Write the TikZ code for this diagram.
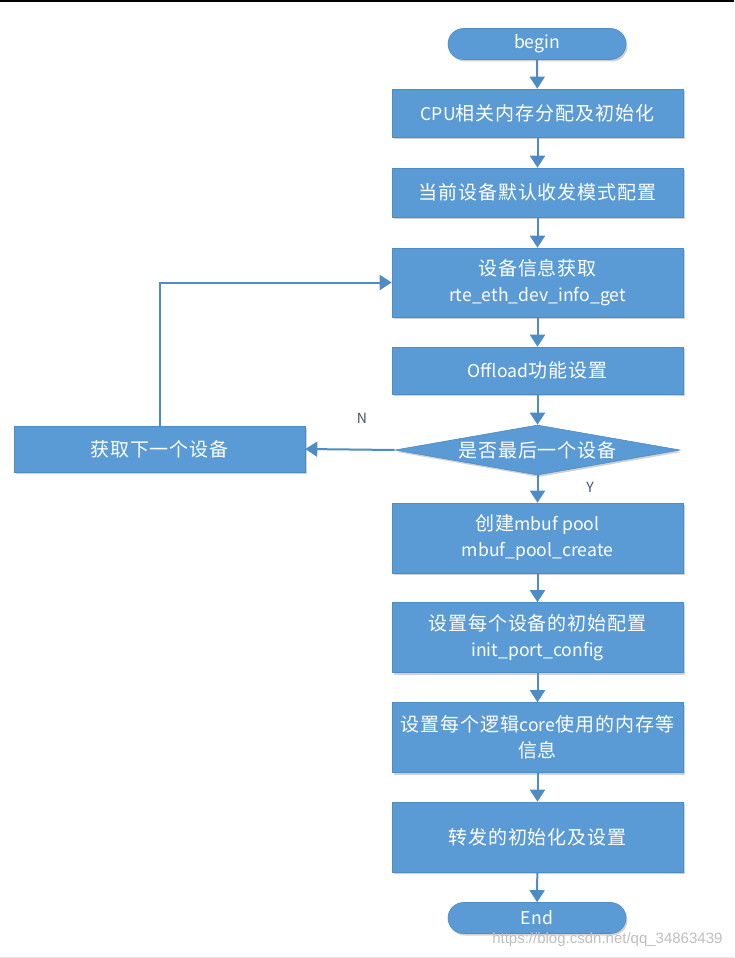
\documentclass[tikz,border=0pt]{standalone}
\usepackage{fontspec}
\setmainfont[LetterSpace=5]{Noto Sans CJK SC}
\newfontfamily\latinfont{Noto Sans CJK SC}
\newfontfamily\wmfont{Liberation Sans}
\usetikzlibrary{arrows.meta,shapes.geometric,shadows}
\definecolor{boxblue}{HTML}{5B9BD5}
\definecolor{boxedge}{HTML}{4E8CC6}
\definecolor{arrowblue}{HTML}{4E8CC6}
\definecolor{labelgray}{HTML}{44546A}
\newcommand{\lat}[1]{{\latinfont\fontsize{17.6}{26}\selectfont #1}}
\tikzset{
  base/.style={fill=boxblue, draw=boxedge, line width=0.6pt, text=white,
    font=\fontsize{19}{26}\selectfont, align=center, inner sep=0pt,
    drop shadow={shadow xshift=1.5pt, shadow yshift=-2pt, fill=black, opacity=0.18}},
  procbox/.style={base, rectangle, minimum width=291pt},
  termbox/.style={base, rectangle, rounded corners=15.5pt, minimum width=178pt, minimum height=31pt},
  decbox/.style={base, diamond, aspect=5.7, minimum width=285pt, minimum height=50pt},
  flow/.style={draw=arrowblue, line width=2pt, -{Triangle[width=15pt,length=12pt]}},
  lbl/.style={text=labelgray, font=\latinfont\fontsize{14}{16}\selectfont}
}
\begin{document}
\begin{tikzpicture}[x=1pt,y=-1pt]
\useasboundingbox (0,0) rectangle (734,958);
\fill[white] (0,0) rectangle (734,958);
\fill[black] (0,0) rectangle (734,2.5);
\fill[black!10] (0,956.5) rectangle (734,958);

\node[termbox] (begin) at (537,44) {\lat{begin}};
\node[procbox, minimum height=48pt] (cpu) at (537.5,113) {\lat{CPU}相关内存分配及初始化};
\node[procbox, minimum height=49pt] (mode) at (537.5,192.5) {当前设备默认收发模式配置};
\node[procbox, minimum height=69pt] (info) at (537.5,282.5) {设备信息获取\\\lat{rte\_eth\_dev\_info\_get}};
\node[procbox, minimum height=47pt] (offload) at (537.5,370.5) {\lat{Offload}功能设置};
\node[decbox] (last) at (537.5,450) {是否最后一个设备};
\node[procbox, minimum height=46pt] (next) at (159.5,449) {获取下一个设备};
\node[procbox, minimum height=70pt] (mbuf) at (537.5,538) {创建\lat{mbuf pool}\\\lat{mbuf\_pool\_create}};
\node[procbox, minimum height=70pt] (port) at (537.5,637.5) {设置每个设备的初始配置\\\lat{init\_port\_config}};
\node[procbox, minimum height=70pt] (core) at (537.5,737.5) {设置每个逻辑\lat{core}使用的内存等\\信息};
\node[procbox, minimum height=70pt] (fwd) at (537.5,837) {转发的初始化及设置};
\node[termbox] (end) at (537,918) {\lat{End}};

\draw[flow] (begin) -- (cpu);
\draw[flow] (cpu) -- (mode);
\draw[flow] (mode) -- (info);
\draw[flow] (info) -- (offload);
\draw[flow] (offload) -- (last);
\draw[flow] (last) -- (mbuf);
\draw[flow] (mbuf) -- (port);
\draw[flow] (port) -- (core);
\draw[flow] (core) -- (fwd);
\draw[flow] (fwd) -- (end);
\draw[flow] (last.west) -- (next.east);
\draw[flow] (next.north) |- (info.west);

\node[lbl] (nlbl) at (362,418) {N};
\node[lbl] (ylbl) at (590,487) {Y};

\node[text=black!25, font=\wmfont\fontsize{15}{17}\selectfont, anchor=east] (wm) at (726,940) {https://blog.csdn.net/qq\_34863439};
\end{tikzpicture}
\end{document}
